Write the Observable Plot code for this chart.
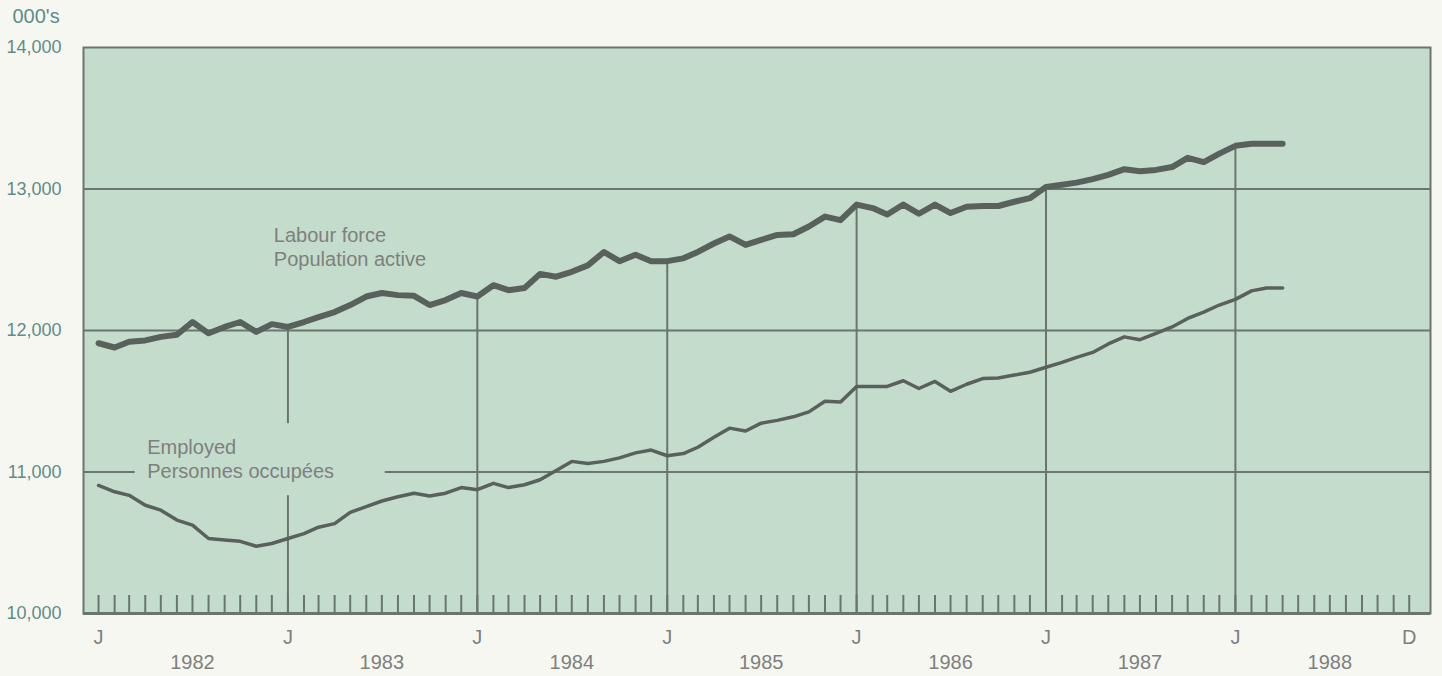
<!DOCTYPE html>
<html>
<head>
<meta charset="utf-8">
<script src="https://cdn.jsdelivr.net/npm/d3@7"></script>
<script src="https://cdn.jsdelivr.net/npm/@observablehq/plot@0.6"></script>
<style>
  html, body { margin: 0; padding: 0; background: #f7f7f2; }
  #chart svg { display: block; }
</style>
</head>
<body>
<div id="chart"></div>
<script>
// Monthly series, January 1982 to April 1988 (thousands)
const labourForce = [
  11910, 11880, 11920, 11930, 11955, 11970, 12060, 11980, 12025, 12060, 11990, 12045,
  12025, 12060, 12095, 12130, 12180, 12240, 12265, 12250, 12245, 12180, 12215, 12265,
  12240, 12320, 12285, 12300, 12400, 12380, 12415, 12460, 12555, 12490, 12535, 12490,
  12490, 12510, 12555, 12615, 12665, 12605, 12640, 12675, 12680, 12735, 12805, 12780,
  12890, 12865, 12820, 12890, 12825, 12890, 12830, 12875, 12880, 12880, 12910, 12935,
  13015, 13030, 13045, 13070, 13100, 13140, 13125, 13135, 13155, 13220, 13190, 13250,
  13305, 13320, 13320, 13320
];
const employed = [
  10905, 10860, 10835, 10765, 10730, 10660, 10625, 10530, 10520, 10510, 10475, 10495,
  10530, 10565, 10610, 10635, 10715, 10755, 10795, 10825, 10850, 10830, 10850, 10890,
  10875, 10920, 10890, 10910, 10945, 11010, 11075, 11060, 11075, 11100, 11135, 11155,
  11115, 11130, 11175, 11245, 11310, 11290, 11345, 11365, 11390, 11425, 11500, 11495,
  11605, 11605, 11605, 11645, 11590, 11640, 11570, 11620, 11660, 11665, 11685, 11705,
  11740, 11775, 11810, 11845, 11905, 11955, 11935, 11980, 12025, 12085, 12130, 12180,
  12220, 12280, 12300, 12300
];
const yTicks = [10000, 11000, 12000, 13000, 14000];
const years = [1982, 1983, 1984, 1985, 1986, 1987, 1988];
const unitLabel = "000's";
const seriesLabels = [
  {text: "Labour force\nPopulation active", date: new Date(Date.UTC(1982, 11, 1)), value: 12594},
  {text: "Employed\nPersonnes occupées", date: new Date(Date.UTC(1982, 3, 1)), value: 11094}
];

const monthDate = i => new Date(Date.UTC(1982, i, 1));
const data = labourForce.map((v, i) => ({date: monthDate(i), lf: v, emp: employed[i]}));
const months = d3.range(years.length * 12).map(monthDate);
const januaries = data.filter(d => d.date.getUTCMonth() === 0 && d.date.getUTCFullYear() > years[0]);
const monthTicks = years.map(y => new Date(Date.UTC(y, 0, 1))).concat([new Date(Date.UTC(years[years.length - 1], 11, 1))]);
const yearTicks = years.map(y => new Date(Date.UTC(y, 6, 1)));

const panel = "#c4dccc";
const grid = "#6a766d";
const lineColor = "#59615d";
const labelGray = "#7e807e";
const tealGray = "#5d8c89";

// background box behind the "Employed" label
function employedBox(index, scales) {
  const lab = seriesLabels[1];
  const x = scales.x(lab.date), y = scales.y(lab.value);
  const r = document.createElementNS("http://www.w3.org/2000/svg", "rect");
  r.setAttribute("x", x - 10);
  r.setAttribute("y", y - 35);
  r.setAttribute("width", 250);
  r.setAttribute("height", 72);
  r.setAttribute("fill", panel);
  return r;
}

const plot = Plot.plot({
  width: 1442,
  height: 676,
  marginLeft: 83,
  marginRight: 12,
  marginTop: 47,
  marginBottom: 63,
  style: {background: "transparent", fontFamily: "'Liberation Sans', Arial, sans-serif", fontSize: "20px"},
  x: {type: "utc", domain: [new Date(Date.UTC(1981, 11, 3)), new Date(Date.UTC(1989, 0, 11))]},
  y: {domain: [10000, 14000]},
  marks: [
    Plot.frame({fill: panel}),
    Plot.ruleY(yTicks.slice(1, -1), {stroke: grid, strokeWidth: 2}),
    Plot.ruleX(januaries, {x: "date", y1: yTicks[0], y2: "lf", stroke: grid, strokeWidth: 2}),
    Plot.ruleX(months, {x: d => d, insetTop: 548, stroke: grid, strokeWidth: 2}),
    employedBox,
    Plot.line(data, {x: "date", y: "emp", stroke: lineColor, strokeWidth: 3.5, strokeLinejoin: "round", strokeLinecap: "round"}),
    Plot.line(data, {x: "date", y: "lf", stroke: lineColor, strokeWidth: 6, strokeLinejoin: "round", strokeLinecap: "round"}),
    Plot.text(seriesLabels, {x: "date", y: "value", text: "text", textAnchor: "start", lineAnchor: "middle", lineHeight: 1.18, dx: 2, fill: labelGray, fontSize: 20}),
    Plot.frame({stroke: grid, strokeWidth: 2}),
    Plot.ruleY([yTicks[0]], {stroke: grid, strokeWidth: 3}),
    Plot.axisY({ticks: yTicks, tickFormat: d3.format(","), tickSize: 0, tickPadding: 22, label: null, fill: tealGray, fontSize: 18}),
    Plot.axisX({ticks: monthTicks, tickFormat: d => d.getUTCMonth() === 0 ? "J" : "D", tickSize: 0, tickPadding: 16, label: null, fill: labelGray, fontSize: 20}),
    Plot.axisX({ticks: yearTicks, tickFormat: d => String(d.getUTCFullYear()), tickSize: 0, tickPadding: 41, label: null, fill: labelGray, fontSize: 20}),
    Plot.text([unitLabel], {frameAnchor: "top-left", text: d => d, dx: -71, dy: -31, textAnchor: "start", lineAnchor: "middle", fill: tealGray, fontSize: 20})
  ]
});
document.getElementById("chart").append(plot);
</script>
</body>
</html>
